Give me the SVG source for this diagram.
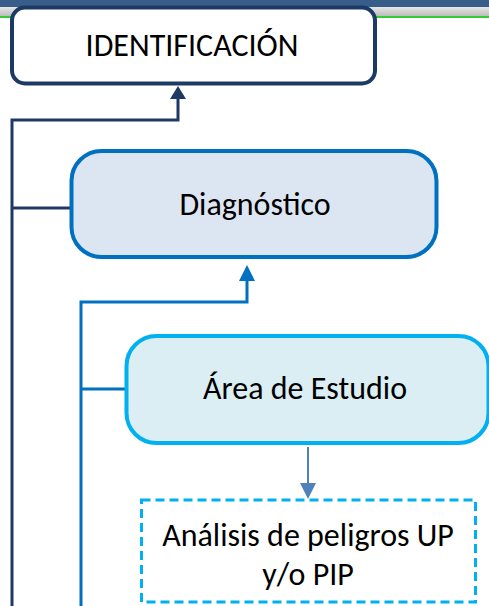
<svg xmlns="http://www.w3.org/2000/svg" width="489" height="606" viewBox="0 0 489 606">
<style>
.t{font-family:Carlito,"Open Sans","Noto Sans","Liberation Sans",sans-serif;fill:#000;text-anchor:middle;font-size:32px;}
.navy{stroke:#1C3A63;fill:none;stroke-width:3;}
.blue{stroke:#0070C0;fill:none;stroke-width:3;}
</style>
<defs>
<linearGradient id="gr" x1="0" y1="0" x2="0" y2="1">
<stop offset="0" stop-color="#e6e6e6"/>
<stop offset="1" stop-color="#bdbdbd"/>
</linearGradient>
</defs>
<g id="header">
<rect x="0" y="0" width="489" height="7" fill="#385D8A"/>
<rect x="0" y="7" width="489" height="9" fill="url(#gr)"/>
<rect x="0" y="16" width="489" height="2" fill="#33CC33"/>
</g>
<g id="connectors">
<polyline class="navy" points="178,98 178,120 12,120 12,606"/>
<polygon points="178,86 170,99 186,99" fill="#1C3A63"/>
<line class="navy" x1="12" y1="208" x2="72" y2="208"/>
<polyline class="blue" points="247,280 247,302 81,302 81,606"/>
<polygon points="247,265 239,281 255,281" fill="#0070C0"/>
<line class="blue" x1="81" y1="389" x2="126" y2="389"/>
<line x1="308" y1="447" x2="308" y2="484" stroke="#4F81BD" stroke-width="2"/>
<polygon points="308,499 300,483 316,483" fill="#4F81BD"/>
</g>
<g id="identificacion">
<rect x="12" y="7.5" width="363" height="76" rx="13" fill="#fff" stroke="#1C3A63" stroke-width="4"/>
<text class="t" x="192" y="56">IDENTIFICACIÓN</text>
</g>
<g id="diagnostico">
<rect x="71.5" y="151" width="365" height="106" rx="30" fill="#DCE6F2" stroke="#0070C0" stroke-width="4"/>
<text class="t" x="255" y="215">Diagnóstico</text>
</g>
<g id="area">
<rect x="126.5" y="336" width="362" height="107" rx="30" fill="#DBEEF4" stroke="#00B0F0" stroke-width="4"/>
<text class="t" x="305" y="399">Área de Estudio</text>
</g>
<g id="analisis">
<rect x="141.5" y="500" width="334" height="102" fill="#fff" stroke="#00B0F0" stroke-width="3" stroke-dasharray="9,5"/>
<text class="t" x="308" y="546">Análisis de peligros UP</text>
<text class="t" x="308" y="585">y/o PIP</text>
</g>
</svg>
